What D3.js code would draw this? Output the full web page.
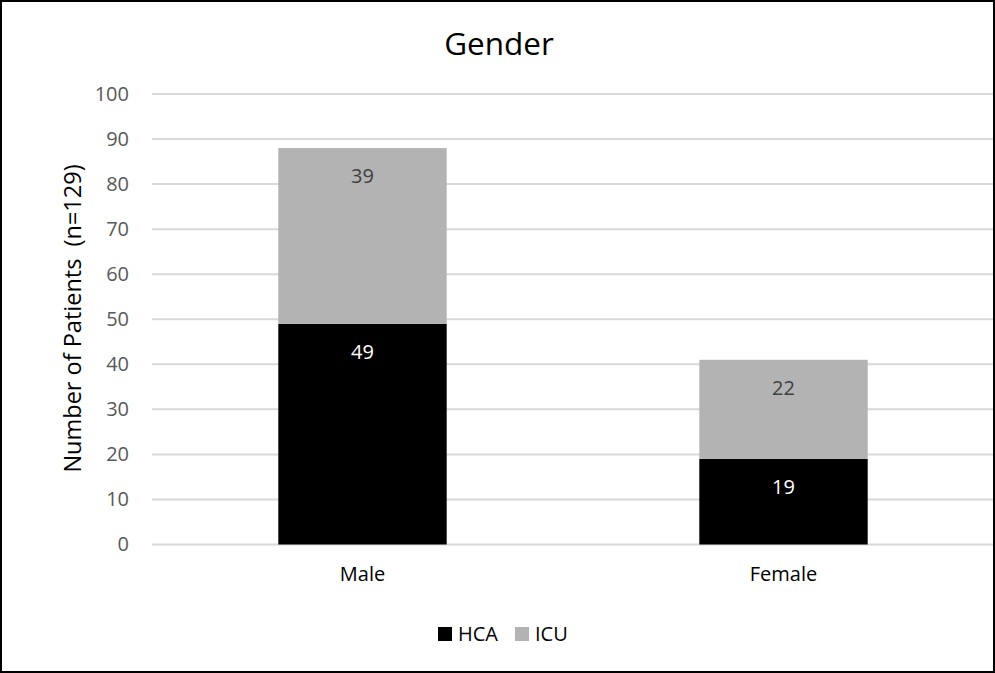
<!DOCTYPE html>
<html>
<head>
<meta charset="utf-8">
<script src="https://cdn.jsdelivr.net/npm/d3@7"></script>
<style>
  html, body { margin: 0; padding: 0; background: #fff; }
  svg { display: block; font-family: "Open Sans", "Liberation Sans", sans-serif; }
</style>
</head>
<body>
<svg id="chart" width="995" height="673"></svg>
<script>
// Patients by gender, split by care setting
const categories = ["Male", "Female"];
const seriesNames = ["HCA", "ICU"];
const hcaValues = [49, 19];
const icuValues = [39, 22];
const yTicks = [0, 10, 20, 30, 40, 50, 60, 70, 80, 90, 100];
const seriesColors = ["#000000", "#b3b3b3"];
const labelColors = ["#ffffff", "#404040"];

const W = 995, H = 673;
const FONT = "'Open Sans', 'Liberation Sans', sans-serif";
const svg = d3.select("#chart");

// outer frame
svg.append("rect")
  .attr("x", 1).attr("y", 1).attr("width", W - 2).attr("height", H - 2)
  .attr("fill", "#fff").attr("stroke", "#000").attr("stroke-width", 2);

const plot = { left: 152, right: 994, top: 94, bottom: 544.5 };

const x = d3.scaleBand().domain(categories)
  .range([plot.left, plot.right]).paddingInner(0.6).paddingOuter(0.3);
const y = d3.scaleLinear().domain([0, 100]).range([plot.bottom, plot.top]);

// gridlines
svg.append("g")
  .selectAll("line").data(yTicks).join("line")
  .attr("x1", plot.left).attr("x2", plot.right - 1)
  .attr("y1", d => y(d)).attr("y2", d => y(d))
  .attr("stroke", "#d9d9d9").attr("stroke-width", 2);

// y axis labels
const yAxis = d3.axisLeft(y).tickValues(yTicks).tickSize(0).tickPadding(0);
const gy = svg.append("g").attr("transform", `translate(${plot.left - 23},0)`).call(yAxis);
gy.select(".domain").remove();
gy.selectAll("text")
  .attr("fill", "#595959").attr("font-size", 20)
  .attr("font-family", FONT);

// x axis labels
const xAxis = d3.axisBottom(x).tickSize(0).tickPadding(0);
const gx = svg.append("g").attr("transform", `translate(0,${plot.bottom + 22})`).call(xAxis);
gx.select(".domain").remove();
gx.selectAll("text")
  .attr("fill", "#000").attr("font-size", 20)
  .attr("font-family", FONT);

// stacked bars
const rows = categories.map((c, i) => ({ cat: c, HCA: hcaValues[i], ICU: icuValues[i] }));
const stacked = d3.stack().keys(seriesNames)(rows);

const layers = svg.append("g").selectAll("g").data(stacked).join("g")
  .attr("fill", (d, i) => seriesColors[i]);

layers.selectAll("rect").data(d => d).join("rect")
  .attr("x", d => x(d.data.cat))
  .attr("width", x.bandwidth())
  .attr("y", d => y(d[1]))
  .attr("height", d => y(d[0]) - y(d[1]));

// value labels, inside end of each segment
stacked.forEach((layer, i) => {
  svg.append("g").selectAll("text").data(layer).join("text")
    .attr("x", d => x(d.data.cat) + x.bandwidth() / 2)
    .attr("y", d => y(d[1]) + 35)
    .attr("text-anchor", "middle")
    .attr("font-size", 20)
    .attr("fill", labelColors[i])
    .text(d => d[1] - d[0]);
});

// title
svg.append("text")
  .attr("x", 499).attr("y", 55)
  .attr("text-anchor", "middle")
  .attr("font-size", 31.5).attr("fill", "#000")
  .text("Gender");

// y axis title (keeps its double space)
svg.append("text")
  .attr("transform", `translate(81,318.5) rotate(-90)`)
  .attr("text-anchor", "middle")
  .attr("font-size", 23.5).attr("fill", "#000")
  .style("white-space", "pre")
  .text("Number of Patients  (n=129)");

// legend
const legend = svg.append("g").attr("transform", "translate(438,627)");
const legendPos = [0, 77];
seriesNames.forEach((name, i) => {
  const g = legend.append("g").attr("transform", `translate(${legendPos[i]},0)`);
  g.append("rect").attr("width", 14).attr("height", 14).attr("fill", seriesColors[i]);
  g.append("text").attr("x", 20).attr("y", 14)
    .attr("font-size", 20).attr("fill", "#000").text(name);
});
</script>
</body>
</html>
